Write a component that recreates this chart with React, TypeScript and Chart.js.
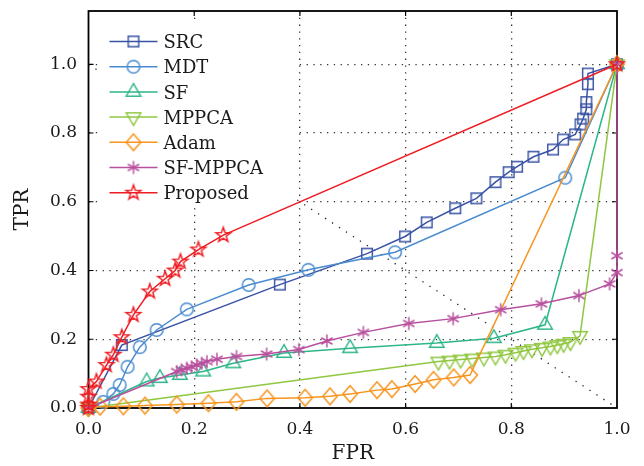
import React, { useEffect, useRef } from 'react';
import { Chart, registerables } from 'chart.js';

Chart.register(...registerables);

// ---------- data ----------
const seriesNames = ['SRC', 'MDT', 'SF', 'MPPCA', 'Adam', 'SF-MPPCA', 'Proposed'];
const seriesColors = ['#3953a4', '#4a8bd0', '#2db68a', '#8fc740', '#f7941d', '#b8509e', '#ee1d23'];
const seriesMarkers = ['square', 'circle', 'tri', 'tridown', 'diamond', 'asterisk', 'star'];

const srcX = [0, 0.063, 0.362, 0.527, 0.599, 0.640, 0.694, 0.734, 0.770, 0.795, 0.811, 0.842, 0.879, 0.898, 0.921, 0.931, 0.936, 0.942, 0.942, 0.945, 0.945, 1.0];
const srcY = [0, 0.183, 0.359, 0.449, 0.499, 0.540, 0.581, 0.610, 0.657, 0.686, 0.702, 0.731, 0.752, 0.781, 0.796, 0.825, 0.842, 0.869, 0.890, 0.942, 0.973, 1.0];

const mdtX = [0, 0.028, 0.047, 0.059, 0.074, 0.097, 0.129, 0.186, 0.303, 0.416, 0.580, 0.902, 1.0];
const mdtY = [0, 0.018, 0.041, 0.067, 0.120, 0.177, 0.227, 0.287, 0.358, 0.402, 0.453, 0.670, 1.0];

const sfX = [0, 0.110, 0.135, 0.173, 0.217, 0.274, 0.370, 0.495, 0.659, 0.767, 0.864, 1.0];
const sfY = [0, 0.077, 0.087, 0.096, 0.106, 0.130, 0.160, 0.174, 0.189, 0.203, 0.242, 1.0];

const mppcaX = [0, 0.662, 0.683, 0.704, 0.726, 0.748, 0.770, 0.789, 0.808, 0.823, 0.839, 0.858, 0.874, 0.887, 0.899, 0.912, 0.930, 1.0];
const mppcaY = [0, 0.135, 0.138, 0.141, 0.144, 0.147, 0.150, 0.155, 0.161, 0.166, 0.171, 0.175, 0.179, 0.183, 0.187, 0.192, 0.210, 1.0];

const adamX = [0, 0.022, 0.066, 0.107, 0.167, 0.227, 0.280, 0.338, 0.410, 0.457, 0.495, 0.546, 0.574, 0.618, 0.653, 0.691, 0.722, 1.0];
const adamY = [0, 0.004, 0.005, 0.007, 0.010, 0.014, 0.018, 0.028, 0.030, 0.034, 0.041, 0.052, 0.055, 0.070, 0.082, 0.089, 0.096, 1.0];

const sfmX = [0, 0.167, 0.176, 0.186, 0.195, 0.205, 0.214, 0.224, 0.243, 0.280, 0.337, 0.398, 0.451, 0.520, 0.606, 0.690, 0.780, 0.857, 0.928, 0.986, 1.0, 1.0, 1.0];
const sfmY = [0, 0.106, 0.111, 0.116, 0.120, 0.125, 0.130, 0.135, 0.142, 0.150, 0.157, 0.170, 0.195, 0.220, 0.246, 0.260, 0.286, 0.303, 0.327, 0.361, 0.394, 0.443, 1.0];

const propX = [0, 0, 0, 0, 0.015, 0.034, 0.047, 0.063, 0.085, 0.116, 0.145, 0.164, 0.174, 0.208, 0.255, 1.0];
const propY = [0, 0.010, 0.033, 0.055, 0.077, 0.125, 0.155, 0.206, 0.271, 0.339, 0.376, 0.400, 0.426, 0.461, 0.503, 1.0];

const seriesXs = [srcX, mdtX, sfX, mppcaX, adamX, sfmX, propX];
const seriesYs = [srcY, mdtY, sfY, mppcaY, adamY, sfmY, propY];

const xTicks = [0, 0.2, 0.4, 0.6, 0.8, 1.0];
const yTicks = [0, 0.2, 0.4, 0.6, 0.8, 1.0];
const diagX = [0, 1];
const diagY = [1, 0];

const FONT = "'DejaVu Serif', 'Liberation Serif', serif";

function makeMarker(kind: string, color: string): HTMLCanvasElement {
  const s = 24;
  const c = document.createElement('canvas');
  c.width = s;
  c.height = s;
  const g = c.getContext('2d') as CanvasRenderingContext2D;
  const cx = s / 2;
  const cy = s / 2;
  g.strokeStyle = color;
  g.lineWidth = 1.45;
  g.beginPath();
  if (kind === 'square') {
    g.rect(cx - 5.3, cy - 5.3, 10.6, 10.6);
  } else if (kind === 'circle') {
    g.arc(cx, cy, 6.3, 0, Math.PI * 2);
  } else if (kind === 'tri' || kind === 'tridown') {
    const r = 8.4;
    const sgn = kind === 'tri' ? 1 : -1;
    for (let k = 0; k < 3; k++) {
      const a = -Math.PI / 2 + (k * 2 * Math.PI) / 3;
      const px = cx + r * Math.cos(a);
      const py = cy + sgn * r * Math.sin(a);
      if (k === 0) g.moveTo(px, py);
      else g.lineTo(px, py);
    }
    g.closePath();
  } else if (kind === 'diamond') {
    g.moveTo(cx, cy - 8.3);
    g.lineTo(cx + 7.3, cy);
    g.lineTo(cx, cy + 8.3);
    g.lineTo(cx - 7.3, cy);
    g.closePath();
  } else if (kind === 'star') {
    for (let k = 0; k < 10; k++) {
      const r = k % 2 ? 3.1 : 7.8;
      const a = -Math.PI / 2 + (k * Math.PI) / 5;
      const px = cx + r * Math.cos(a);
      const py = cy + r * Math.sin(a);
      if (k === 0) g.moveTo(px, py);
      else g.lineTo(px, py);
    }
    g.closePath();
  } else if (kind === 'asterisk') {
    const r = 6.5;
    for (let k = 0; k < 3; k++) {
      const a = Math.PI / 2 + (k * Math.PI) / 3;
      g.moveTo(cx + r * Math.cos(a), cy + r * Math.sin(a));
      g.lineTo(cx - r * Math.cos(a), cy - r * Math.sin(a));
    }
  }
  g.stroke();
  return c;
}

export default function App() {
  const ref = useRef<HTMLCanvasElement | null>(null);

  useEffect(() => {
    if (!ref.current) return;
    const markers = seriesNames.map((_, i) => makeMarker(seriesMarkers[i], seriesColors[i]));
    const n = seriesNames.length;

    const datasets = seriesNames.map((name, i) => ({
      label: name,
      data: seriesXs[i].map((x, j) => ({ x, y: seriesYs[i][j] })),
      showLine: true,
      borderColor: seriesColors[i],
      backgroundColor: seriesColors[i],
      borderWidth: 1.5,
      pointStyle: markers[i],
      pointRadius: 6,
      pointHoverRadius: 6,
      tension: 0,
      clip: false,
      order: n - 1 - i,
    }));

    const decor = {
      id: 'decor',
      beforeDatasetsDraw(chart: any) {
        const { ctx, chartArea: a, scales } = chart;
        const xs = scales.x;
        const ys = scales.y;
        ctx.save();
        // diagonal reference line
        ctx.strokeStyle = '#222';
        ctx.lineWidth = 1.3;
        ctx.setLineDash([1.3, 7]);
        ctx.beginPath();
        ctx.moveTo(xs.getPixelForValue(diagX[0]), ys.getPixelForValue(diagY[0]));
        ctx.lineTo(xs.getPixelForValue(diagX[1]), ys.getPixelForValue(diagY[1]));
        ctx.stroke();
        ctx.setLineDash([]);
        // frame
        ctx.strokeStyle = '#000';
        ctx.lineWidth = 1.8;
        ctx.strokeRect(a.left, a.top, a.right - a.left, a.bottom - a.top);
        // inward ticks
        ctx.lineWidth = 1.2;
        ctx.beginPath();
        xTicks.forEach((v) => {
          if (v <= 0 || v >= 1) return;
          const px = xs.getPixelForValue(v);
          ctx.moveTo(px, a.bottom);
          ctx.lineTo(px, a.bottom - 5);
          ctx.moveTo(px, a.top);
          ctx.lineTo(px, a.top + 5);
        });
        yTicks.forEach((v) => {
          if (v <= 0) return;
          const py = ys.getPixelForValue(v);
          ctx.moveTo(a.left, py);
          ctx.lineTo(a.left + 5, py);
          ctx.moveTo(a.right, py);
          ctx.lineTo(a.right - 5, py);
        });
        ctx.stroke();
        // legend
        const bx = a.left + 12.5;
        const by = a.top + 11;
        ctx.fillStyle = '#fff';
        ctx.fillRect(bx, by, 195, 186);
        ctx.font = `18px ${FONT}`;
        ctx.textBaseline = 'alphabetic';
        ctx.textAlign = 'left';
        seriesNames.forEach((name, i) => {
          const ry = a.top + 30.5 + i * 25.2;
          ctx.strokeStyle = seriesColors[i];
          ctx.lineWidth = 1.5;
          ctx.beginPath();
          ctx.moveTo(a.left + 21, ry);
          ctx.lineTo(a.left + 69, ry);
          ctx.stroke();
          const m = markers[i];
          ctx.drawImage(m, a.left + 45 - m.width / 2, ry - m.height / 2);
          ctx.fillStyle = '#1a1a1a';
          ctx.fillText(name, a.left + 75, ry + 6.6);
        });
        ctx.restore();
      },
    };

    const chart = new Chart(ref.current, {
      type: 'scatter',
      data: { datasets: datasets as any },
      plugins: [decor],
      options: {
        animation: false,
        responsive: false,
        devicePixelRatio: 1,
        events: [],
        layout: { padding: { left: 0, right: 27, top: 11, bottom: 0 } },
        plugins: { legend: { display: false }, tooltip: { enabled: false } },
        scales: {
          x: {
            type: 'linear',
            min: 0,
            max: 1,
            afterBuildTicks: (s: any) => {
              s.ticks = xTicks.map((v) => ({ value: v }));
            },
            afterFit: (s: any) => {
              s.height = 58;
              s.paddingLeft = 0;
              s.paddingRight = 0;
            },
            ticks: {
              padding: 11,
              maxRotation: 0,
              autoSkip: false,
              color: '#1a1a1a',
              font: { family: FONT, size: 17 },
              callback: (v: any) => Number(v).toFixed(1),
            },
            grid: {
              drawTicks: false,
              lineWidth: 1.3,
              color: (c: any) =>
                c.tick && c.tick.value > 0.001 && c.tick.value < 0.999 ? '#333' : 'rgba(0,0,0,0)',
            },
            border: { display: false, dash: [1.3, 5.5] },
            title: {
              display: true,
              text: 'FPR',
              color: '#1a1a1a',
              font: { family: FONT, size: 20 },
              padding: { top: 0, bottom: 0 },
            },
          },
          y: {
            type: 'linear',
            min: 0,
            max: 1.155,
            afterBuildTicks: (s: any) => {
              s.ticks = yTicks.map((v) => ({ value: v }));
            },
            afterFit: (s: any) => {
              s.width = 88.5;
              s.paddingTop = 0;
              s.paddingBottom = 0;
            },
            ticks: {
              padding: 11.5,
              autoSkip: false,
              color: '#1a1a1a',
              font: { family: FONT, size: 17 },
              callback: (v: any) => Number(v).toFixed(1),
            },
            grid: {
              drawTicks: false,
              lineWidth: 1.3,
              color: (c: any) => (c.tick && c.tick.value > 0.001 ? '#333' : 'rgba(0,0,0,0)'),
            },
            border: { display: false, dash: [1.3, 5.5] },
            title: {
              display: true,
              text: 'TPR',
              color: '#1a1a1a',
              font: { family: FONT, size: 20 },
              padding: { top: 11, bottom: 0 },
            },
          },
        },
      } as any,
    });
    return () => chart.destroy();
  }, []);

  return (
    <canvas
      ref={ref}
      width={644}
      height={466}
      style={{ position: 'fixed', left: 0, top: 0, width: 644, height: 466 }}
    />
  );
}
